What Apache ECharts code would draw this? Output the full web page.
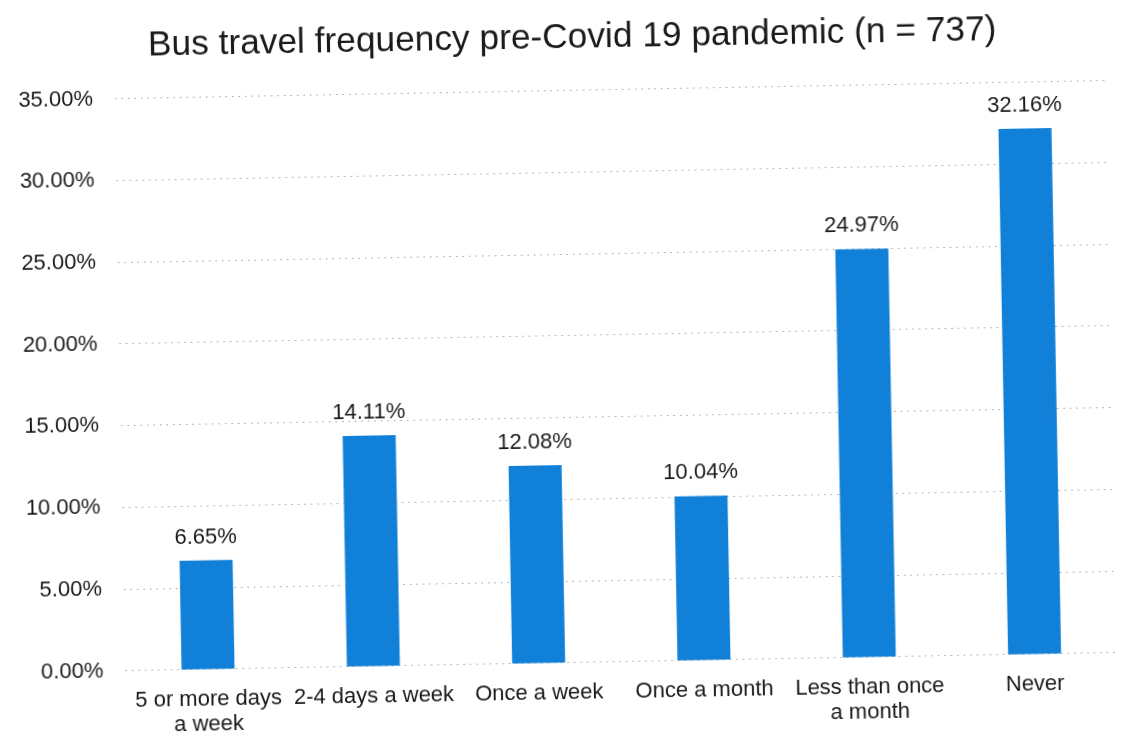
<!DOCTYPE html>
<html>
<head>
<meta charset="utf-8">
<title>Bus travel frequency pre-Covid 19 pandemic</title>
<script src="https://cdn.jsdelivr.net/npm/echarts@6/dist/echarts.min.js"></script>
<style>
  html, body { margin: 0; padding: 0; background: #ffffff; overflow: hidden; }
  #wrap { width: 1128px; height: 742px; transform: rotate(-1.05deg); transform-origin: 50% 50%; }
  #chart { width: 1128px; height: 742px; }
</style>
</head>
<body>
<div id="wrap"><div id="chart"></div></div>
<script>
// Share of respondents (%) by bus travel frequency, n = 737
const categories = [
  '5 or more days\na week',
  '2-4 days a week',
  'Once a week',
  'Once a month',
  'Less than once\na month',
  'Never'
];
const shares = [6.65, 14.11, 12.08, 10.04, 24.97, 32.16];
const yTicks = { min: 0, max: 35, step: 5 };
const titleText = 'Bus travel frequency pre-Covid 19 pandemic (n = 737)';

const FONT = '"Liberation Sans", Arial, Helvetica, sans-serif';
const INK = '#1a1a1a';

const chart = echarts.init(document.getElementById('chart'), null, { renderer: 'canvas' });

chart.setOption({
  backgroundColor: '#ffffff',
  animation: false,
  title: {
    text: titleText,
    left: 149,
    top: 16,
    padding: 5,
    textStyle: { fontFamily: FONT, fontSize: 35.3, fontWeight: 'normal', color: INK }
  },
  grid: { left: 120, top: 90.5, width: 992, height: 572, containLabel: false },
  xAxis: {
    type: 'category',
    data: categories,
    axisLine: { show: false },
    axisTick: { show: false },
    axisLabel: {
      interval: 0,
      margin: 18,
      fontFamily: FONT,
      fontSize: 22,
      lineHeight: 25,
      color: INK
    }
  },
  yAxis: {
    type: 'value',
    min: yTicks.min,
    max: yTicks.max,
    interval: yTicks.step,
    axisLine: { show: false },
    axisTick: { show: false },
    axisLabel: {
      margin: 22,
      fontFamily: FONT,
      fontSize: 22,
      color: INK,
      formatter: v => v.toFixed(2) + '%'
    },
    splitLine: {
      lineStyle: { color: '#a0a0a0', width: 1, type: [1.5, 5] }
    }
  },
  series: [{
    type: 'bar',
    data: shares,
    barWidth: 53,
    itemStyle: { color: '#1080d8' },
    label: {
      show: true,
      position: 'top',
      distance: 12,
      fontFamily: FONT,
      fontSize: 22,
      color: INK,
      formatter: p => p.value.toFixed(2) + '%'
    }
  }]
});
</script>
</body>
</html>
